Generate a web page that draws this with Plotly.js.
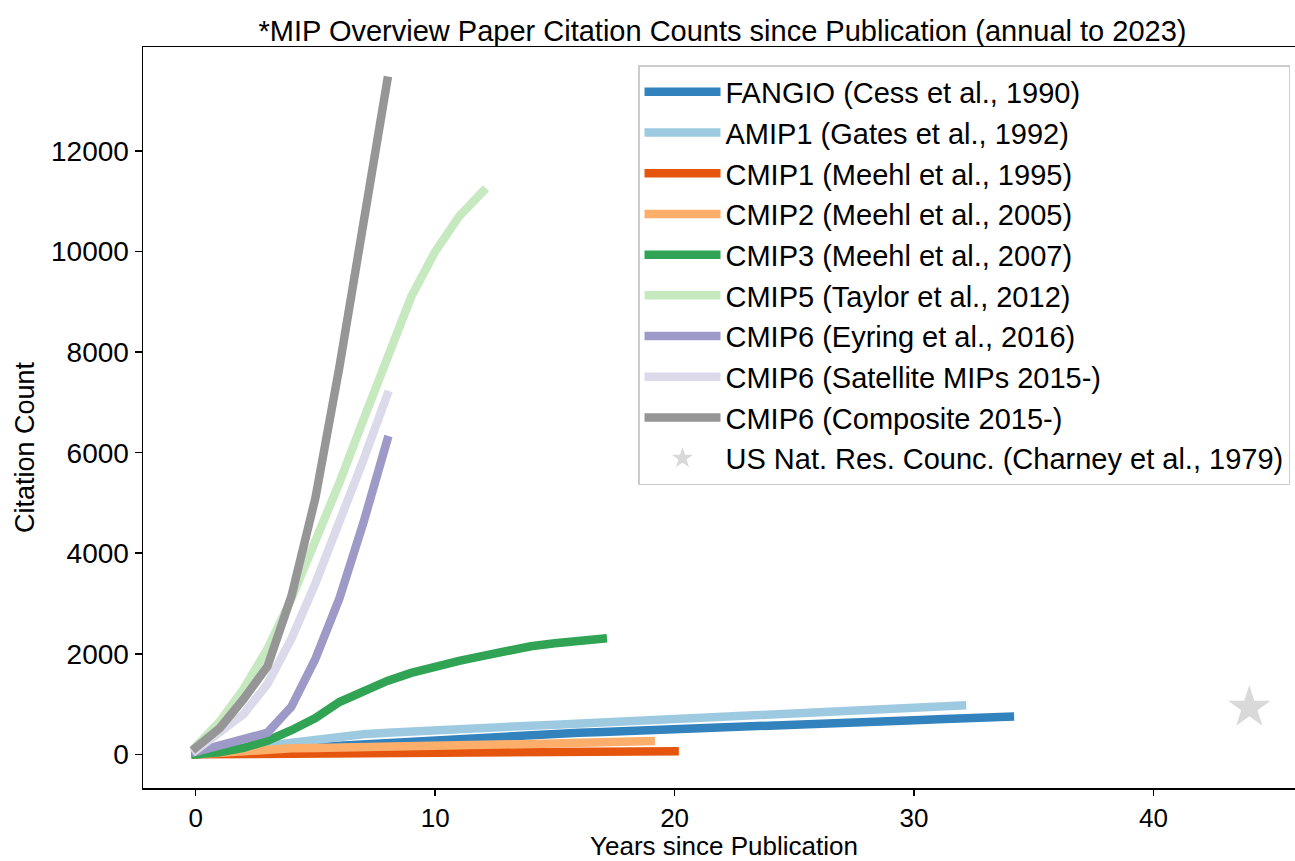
<!DOCTYPE html>
<html>
<head>
<meta charset="utf-8">
<script src="https://cdn.plot.ly/plotly-3.0.1.min.js"></script>
<style>
html, body { margin: 0; padding: 0; overflow: hidden; background: #fff; }
#chart { width: 1302px; height: 861px; }
#chart .scatterlayer .js-line { stroke-linecap: square !important; }
</style>
</head>
<body>
<div id="chart"></div>
<script>
// Series names (legend labels)
const names = [
  "FANGIO (Cess et al., 1990)",
  "AMIP1 (Gates et al., 1992)",
  "CMIP1 (Meehl et al., 1995)",
  "CMIP2 (Meehl et al., 2005)",
  "CMIP3 (Meehl et al., 2007)",
  "CMIP5 (Taylor et al., 2012)",
  "CMIP6 (Eyring et al., 2016)",
  "CMIP6 (Satellite MIPs 2015-)",
  "CMIP6 (Composite 2015-)"
];
const colors = ["#3182bd", "#9ecae1", "#e6550d", "#fdae6b", "#31a354", "#c7e9c0", "#9e9ac8", "#dadaeb", "#969696"];

// Cumulative citation counts, one value per year since publication
const fangio = [0, 20, 50, 80, 110, 140, 170, 200, 230, 260, 290, 320, 340, 370, 390, 410, 430, 445, 460, 475, 490, 505, 520, 540, 560, 580, 600, 620, 640, 660, 680, 700, 720, 740, 750];
const amip1 = [0, 60, 130, 200, 260, 310, 360, 400, 430, 460, 490, 510, 530, 550, 570, 590, 610, 630, 650, 670, 690, 710, 740, 770, 790, 820, 840, 860, 880, 900, 920, 940, 970];
const cmip1 = [0, 2, 5, 8, 10, 12, 14, 16, 18, 20, 22, 24, 27, 30, 33, 37, 41, 45, 50, 55, 60];
const cmip2 = [0, 30, 70, 110, 120, 125, 130, 135, 140, 150, 160, 170, 180, 190, 200, 215, 230, 245, 255, 265];
const cmip3 = [0, 40, 130, 270, 480, 720, 1040, 1260, 1460, 1620, 1750, 1860, 1960, 2070, 2150, 2210, 2260, 2300];
const cmip5 = [150, 650, 1300, 2100, 3100, 4200, 5400, 6650, 7900, 9100, 10000, 10700, 11200];
const cmip6 = [50, 170, 280, 430, 950, 1900, 3100, 4600, 6250];
const satellite = [80, 450, 800, 1400, 2300, 3400, 4600, 5850, 7150];
const composite = [130, 520, 1100, 1750, 3150, 5100, 7700, 10500, 13400];
const seriesValues = [fangio, amip1, cmip1, cmip2, cmip3, cmip5, cmip6, satellite, composite];

// Single point: Charney et al. (1979)
const charneyName = "US Nat. Res. Counc. (Charney et al., 1979)";
const charneyYears = [44];
const charneyCount = [930];

// Axis ticks
const xTicks = [0, 10, 20, 30, 40];
const yTicks = [0, 2000, 4000, 6000, 8000, 10000, 12000];

const FONT = "Liberation Sans, Arial, sans-serif";

const traces = seriesValues.map((vals, i) => ({
  type: "scatter",
  mode: "lines",
  name: names[i],
  x: vals.map((_, k) => k),
  y: vals,
  line: { color: colors[i], width: 8.5 },
  hoverinfo: "x+y+name"
}));
traces.push({
  type: "scatter",
  mode: "markers",
  name: charneyName,
  x: charneyYears,
  y: charneyCount,
  marker: { symbol: "star", size: 32, color: "#d9d9d9" }
});

const W = 1302, H = 861, L = 143, T = 47, B = 73;
const PW = W - L, PH = H - T - B;
const layout = {
  width: W,
  height: H,
  margin: { l: L, r: 0, t: T, b: B, pad: 0 },
  paper_bgcolor: "#ffffff",
  plot_bgcolor: "#ffffff",
  font: { family: FONT, size: 26, color: "#000000" },
  title: {
    text: "*MIP Overview Paper Citation Counts since Publication (annual to 2023)",
    font: { family: FONT, size: 29, color: "#000" },
    xref: "paper", x: 0.5, xanchor: "center",
    yref: "container", y: 1 - 31 / H, yanchor: "middle"
  },
  xaxis: {
    range: [-2.2, 46.2],
    tickvals: xTicks,
    ticktext: xTicks.map(String),
    ticks: "outside", ticklen: 6, tickwidth: 1.5, tickcolor: "#000",
    showline: true, linecolor: "#000", linewidth: 1.5, mirror: true,
    showgrid: false, zeroline: false,
    tickfont: { family: FONT, size: 26 },
    automargin: false
  },
  yaxis: {
    range: [-670, 14070],
    tickvals: yTicks,
    ticktext: yTicks.map(String),
    ticks: "outside", ticklen: 7, tickwidth: 1.5, tickcolor: "#000",
    showline: true, linecolor: "#000", linewidth: 1.5, mirror: true,
    showgrid: false, zeroline: false,
    tickfont: { family: FONT, size: 28 },
    automargin: false
  },
  annotations: [
    {
      text: "Citation Count",
      textangle: -90,
      xref: "paper", x: -(L - 25) / PW, xanchor: "center",
      yref: "paper", y: (788 - 447) / PH, yanchor: "middle",
      showarrow: false,
      font: { family: FONT, size: 27, color: "#000" }
    },
    {
      text: "Years since Publication",
      xref: "paper", x: (724 - L) / PW, xanchor: "center",
      yref: "paper", y: (788 - 846) / PH, yanchor: "middle",
      showarrow: false, borderpad: 0,
      font: { family: FONT, size: 26, color: "#000" }
    }
  ],
  showlegend: true,
  legend: {
    x: (1290 - L) / PW, xanchor: "right",
    y: (788 - 65) / PH, yanchor: "top",
    bgcolor: "rgba(255,255,255,0.9)",
    bordercolor: "#cccccc", borderwidth: 1.5,
    itemwidth: 76,
    font: { family: FONT, size: 29, color: "#000" },
    tracegroupgap: 0
  }
};

Plotly.newPlot("chart", traces, layout, { displayModeBar: false, staticPlot: true });
</script>
</body>
</html>
